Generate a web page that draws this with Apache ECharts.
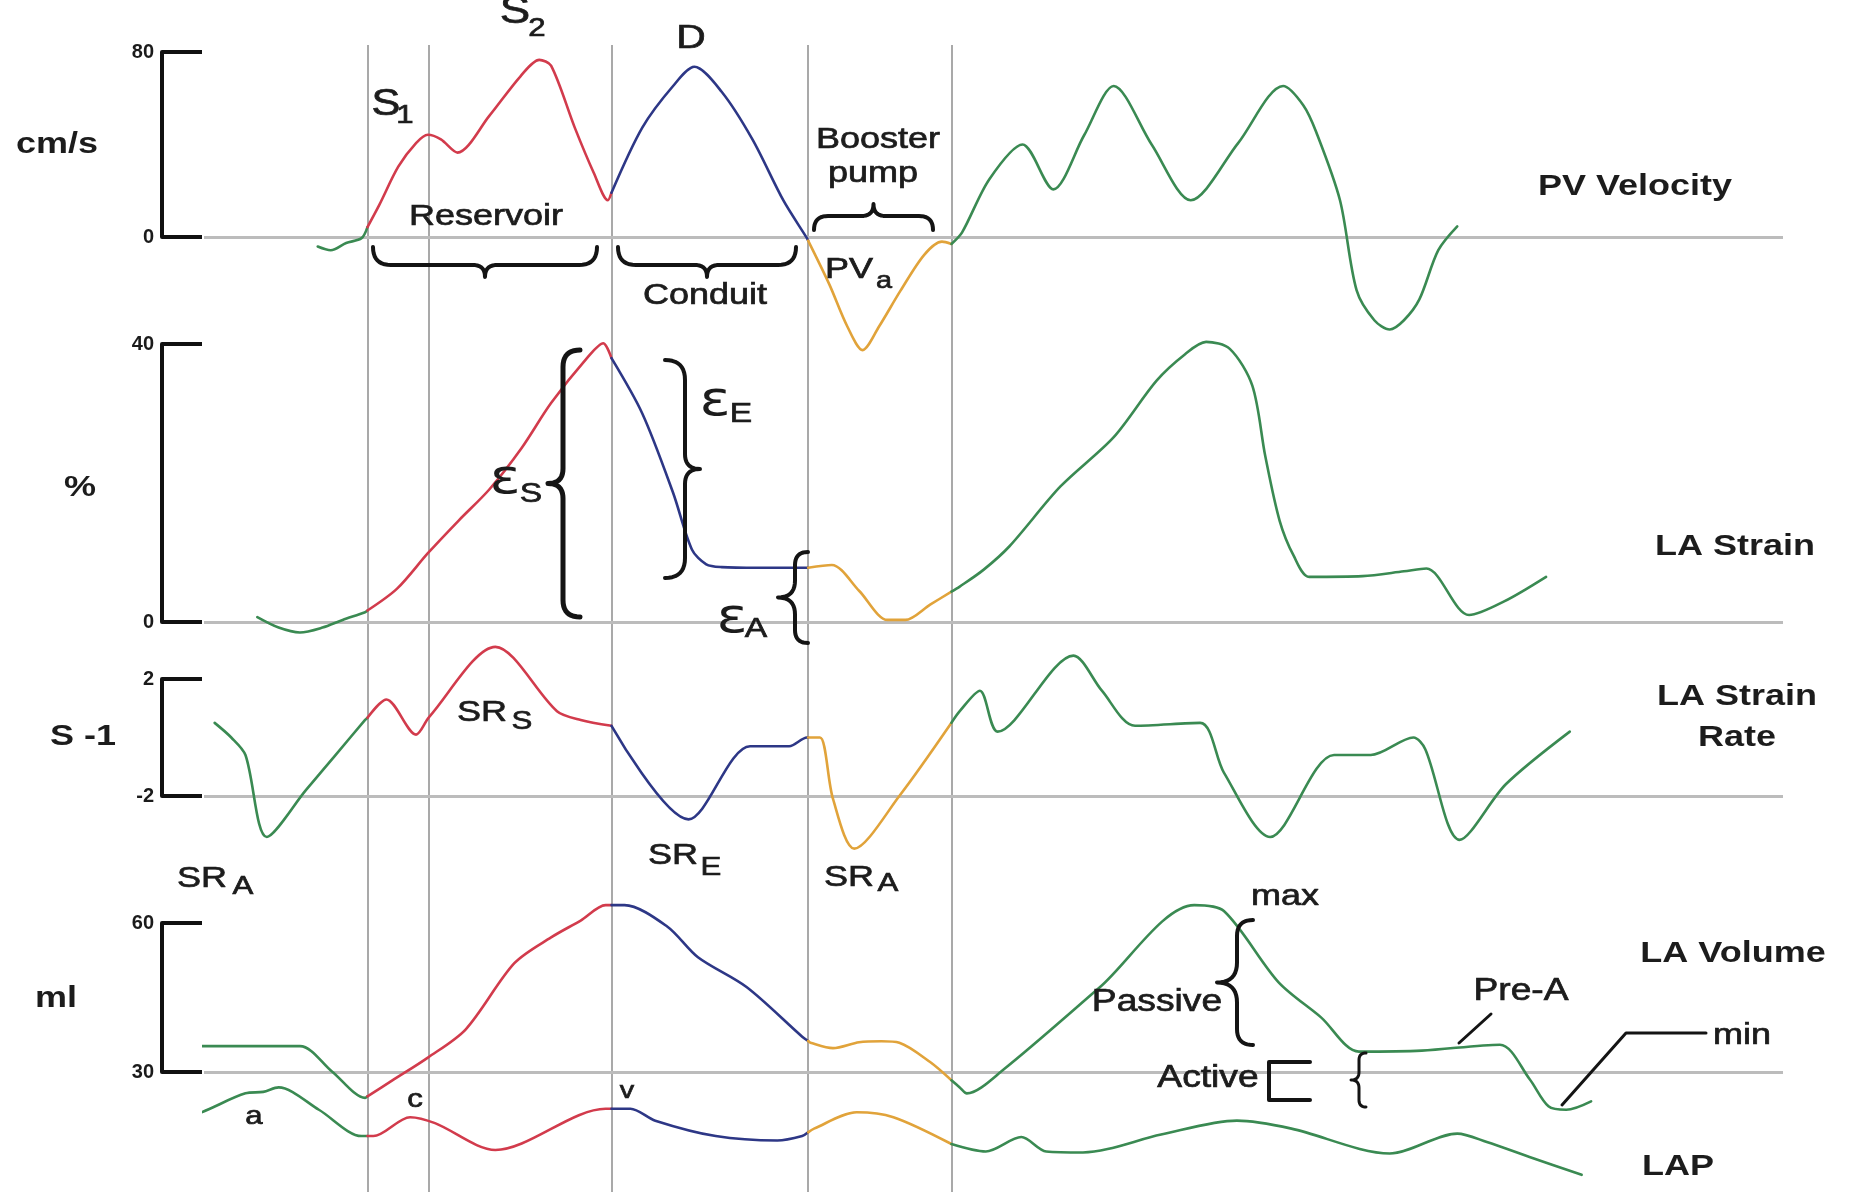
<!DOCTYPE html>
<html><head><meta charset="utf-8">
<script src="https://cdn.jsdelivr.net/npm/echarts@6/dist/echarts.min.js"></script>
<style>html,body{margin:0;padding:0;background:#fff}#c{width:1858px;height:1192px}</style>
</head><body><div id="c"></div>
<script>
// ---- data (time in arbitrary units t) ----
const eventTimes = [310, 362, 516, 682, 803];
const phaseBounds = [310, 516, 682, 803];
const phaseColors = ['#3a8a52', '#d23b4c', '#2d3786', '#e1a33a', '#3a8a52'];

const pvTicks = [0, 80];
const strainTicks = [0, 40];
const srTicks = [-2, 2];
const volTicks = [30, 60];

// PV velocity (cm/s)
const pvVelocity = [[268,-4.1],[279,-5.7],[292,-2.6],[305,-0.5],[320,13.9],[336,30.4],[351,40.6],[361,44.2],[372,42.2],[386,36.5],[413,52.5],[439,69.4],[455,76.6],[465,74.1],[485,47.3],[501,27.8],[513,15.9],[542,47.3],[568,65.3],[586,73.6],[609,62.8],[635,42.2],[661,15.9],[681,-0.5],[700,-20.6],[715,-38.6],[728,-48.9],[742,-38.6],[760,-23.2],[780,-7.7],[795,-2],[803,-3],[812,2],[835,25],[863,40],[889,20.6],[915,44],[940,65.3],[972,40],[1005,15.9],[1045,40.6],[1083,65.3],[1100,57],[1111,45.3],[1131,15.9],[1145,-23],[1160,-36],[1173,-40],[1185,-36],[1198,-27],[1214,-5.7],[1230,4.6]];
// LA strain (%)
const laStrain = [[217,0.7],[235,-0.8],[253,-1.5],[272,-0.8],[289,0.3],[308,1.4],[335,4.8],[361,9.9],[387,14.6],[413,19.1],[440,25],[465,31.5],[496,38.1],[509,40.1],[542,30],[568,18.6],[584,10.4],[596,8.3],[609,7.9],[640,7.8],[682,7.8],[702,8.2],[725,4.5],[749,0.3],[764,0.3],[785,2.5],[810,5.1],[830,7.5],[852,10.9],[895,19.5],[940,26.6],[976,34.7],[1000,38.5],[1018,40.3],[1038,39.3],[1057,34],[1068,23.8],[1080,14.6],[1092,9.5],[1105,6.5],[1150,6.6],[1185,7.3],[1204,7.7],[1240,1],[1270,3],[1305,6.5]];
// LA strain rate (1/s)
const laStrainRate = [[181,0.5],[195,0.0],[207,-0.6],[225,-3.4],[258,-1.8],[283,-0.6],[308,0.6],[326,1.3],[351,0.1],[362,0.7],[418,3.1],[470,0.9],[490,0.6],[516,0.4],[581,-2.8],[633,-0.3],[666,-0.3],[681,0.0],[692,0.0],[703,-2.1],[721,-3.8],[759,-2.0],[810,0.9],[827,1.6],[842,0.2],[906,2.8],[930,1.6],[958,0.4],[1013,0.5],[1033,-1.2],[1072,-3.4],[1126,-0.6],[1157,-0.6],[1193,0.0],[1203,-0.4],[1232,-3.5],[1271,-1.6],[1325,0.2]];
// LA volume (ml)
const laVolume = [[152,35.2],[253,35.2],[280,30.1],[308,24.8],[331,28.3],[361,32.9],[393,38.6],[434,51.9],[465,57.1],[490,60.5],[511,63.6],[527,63.6],[563,59.3],[589,53.1],[630,47.1],[677,37.1],[684,35.9],[703,34.8],[725,36],[744,36.2],[759,35.9],[785,32],[810,26.9],[816,25.7],[847,30.5],[928,47],[1008,63.6],[1033,62.4],[1079,48.1],[1115,41],[1147,34.1],[1200,34.3],[1266,35.5],[1291,28.6],[1307,23.1],[1322,22.4],[1343,24.1]];
// LA pressure (mmHg, unscaled trace)
const lap = [[160,16.4],[170,16.9],[207,20.7],[222,21.0],[235,21.9],[269,17.4],[305,12.1],[315,12.1],[346,15.9],[367,14.7],[418,9.3],[511,17.6],[532,17.6],[553,15.2],[604,12.1],[656,11.2],[677,12.1],[687,13.6],[723,16.9],[754,15.9],[803,10.5],[832,9.0],[862,11.9],[883,9.0],[914,8.8],[980,12.4],[1044,15.2],[1090,13.6],[1173,8.6],[1230,12.6],[1255,10.9],[1291,7.9],[1335,4.3]];

// ---- helpers ----
const FONT = '"Liberation Sans", Arial, Helvetica, sans-serif';
const T_MIN = 172, T_MAX = 1505;

function refine(points, bounds) {
  const out = [points[0]];
  for (let i = 1; i < points.length; i++) {
    const [t0, v0] = points[i-1], [t1, v1] = points[i];
    bounds.forEach(b => { if (t0 < b && t1 > b) out.push([b, v0 + (v1 - v0) * (b - t0) / (t1 - t0)]); });
    out.push(points[i]);
  }
  return out;
}
function segments(points) {
  const pts = refine(points, phaseBounds);
  const edges = [-Infinity, ...phaseBounds, Infinity];
  const segs = [];
  for (let k = 0; k < edges.length - 1; k++) {
    const s = pts.filter(p => p[0] >= edges[k] && p[0] <= edges[k+1]);
    if (s.length > 1) segs.push({k, data: s});
  }
  return segs;
}
function curveSeries(points, xi, yi) {
  return segments(points).map(s => ({
    type: 'line', xAxisIndex: xi, yAxisIndex: yi, data: s.data,
    showSymbol: false, symbol: 'none', smooth: 0.3, clip: false, z: 3, silent: true,
    lineStyle: {color: phaseColors[s.k], width: 2.6, cap: 'round', join: 'round'}
  }));
}
function baseline(xi, yi, value) {
  return {type: 'line', xAxisIndex: xi, yAxisIndex: yi, data: [], silent: true, z: 1,
    markLine: {silent: true, symbol: 'none', z: 1, animation: false, label: {show: false},
      lineStyle: {color: '#bcbcbc', width: 3, type: 'solid'}, emphasis: {disabled: true},
      data: [{yAxis: value}]}};
}
function bracketAxis(gridIndex, ticks) {
  return {type: 'value', gridIndex, min: ticks[0], max: ticks[ticks.length-1], position: 'left', offset: 42,
    axisLine: {show: true, onZero: false, lineStyle: {color: '#111', width: 4}},
    axisTick: {show: true, inside: true, length: 40, customValues: ticks, lineStyle: {color: '#111', width: 4}},
    axisLabel: {show: true, customValues: ticks, color: '#1b1b1b', fontSize: 20, fontWeight: 'bold', fontFamily: FONT, margin: 8},
    splitLine: {show: false}};
}
function txt(text, x, y, size, o) {
  o = o || {};
  const fam = o.eps ? '"DejaVu Sans", sans-serif' : FONT;
  const font = (o.bold ? 'bold ' : '') + size + 'px ' + fam;
  const style = {text, font, fill: '#1c1c1c', textAlign: 'center', textVerticalAlign: 'middle'};
  if (!o.bold && !o.eps) { style.stroke = '#1c1c1c'; style.lineWidth = 0.7; }
  return {type: 'text', x, y, scaleX: o.sx || 1.2, z: 20, silent: true, style};
}
// brace outline as sampled points (decorative annotation shape)
function bracePts(ax, ay, bx, by, hook, tip) {
  const Ln = Math.hypot(bx - ax, by - ay), ux = (bx - ax) / Ln, uy = (by - ay) / Ln, nx = -uy, ny = ux;
  const P = (u, n) => [ax + u*ux + n*nx, ay + u*uy + n*ny];
  const h = hook, m = Ln / 2;
  const pts = [];
  function quad(a, c, b) {
    for (let i = 0; i <= 10; i++) {
      const s = i / 10, q = 1 - s;
      pts.push([q*q*a[0] + 2*q*s*c[0] + s*s*b[0], q*q*a[1] + 2*q*s*c[1] + s*s*b[1]]);
    }
  }
  quad(P(0,0), P(0,h), P(h,h));
  quad(P(m - tip, h), P(m, h), P(m, h + tip));
  quad(P(m, h + tip), P(m, h), P(m + tip, h));
  quad(P(Ln - h, h), P(Ln, h), P(Ln, 0));
  return pts;
}
function poly(points, w) {
  return {type: 'polyline', z: 20, silent: true, shape: {points},
    style: {stroke: '#141414', lineWidth: w || 4, fill: null, lineCap: 'round', lineJoin: 'round'}};
}

// ---- layout ----
const L = 204, R = 75;
const grids = [
  {left: L, right: R, top: 52, height: 185},
  {left: L, right: R, top: 344, height: 278},
  {left: L, right: R, top: 679, height: 117},
  {left: L, right: R, top: 923, height: 149},
  {left: L, right: R, top: 45, bottom: 0}
];
const xAxes = grids.map((g, i) => ({type: 'value', gridIndex: i, min: T_MIN, max: T_MAX, show: false}));
const yAxes = [
  bracketAxis(0, pvTicks), bracketAxis(1, strainTicks), bracketAxis(2, srTicks), bracketAxis(3, volTicks),
  {type: 'value', gridIndex: 3, min: volTicks[0] - 5, max: volTicks[1] - 5, show: false},
  {type: 'value', gridIndex: 4, min: 0, max: 1, show: false}
];

const series = [
  {type: 'line', xAxisIndex: 4, yAxisIndex: 5, data: [], silent: true, z: 1,
    markLine: {silent: true, symbol: 'none', z: 1, animation: false, label: {show: false},
      lineStyle: {color: '#a9a9a9', width: 2, type: 'solid'}, emphasis: {disabled: true},
      data: eventTimes.map(t => ({xAxis: t}))}},
  baseline(0, 0, 0), baseline(1, 1, 0), baseline(2, 2, srTicks[0]), baseline(3, 3, volTicks[0]),
  ...curveSeries(pvVelocity, 0, 0),
  ...curveSeries(laStrain, 1, 1),
  ...curveSeries(laStrainRate, 2, 2),
  ...curveSeries(laVolume, 3, 3),
  ...curveSeries(lap, 3, 4)
];

const graphics = [
  // unit labels
  txt('cm/s', 57, 145, 30, {bold: true}), txt('%', 80, 488, 30, {bold: true}),
  txt('S -1', 83, 737, 30, {bold: true}), txt('ml', 56, 999, 30, {bold: true}),
  // trace names
  txt('PV Velocity', 1635, 187, 30, {bold: true}), txt('LA Strain', 1735, 547, 30, {bold: true}),
  txt('LA Strain', 1737, 697, 30, {bold: true}), txt('Rate', 1737, 738, 30, {bold: true}),
  txt('LA Volume', 1733, 954, 30, {bold: true}), txt('LAP', 1678, 1167, 30, {bold: true}),
  // PV annotations
  txt('S', 386, 105, 36), txt('1', 405, 116, 26),
  txt('S', 515, 13, 38), txt('2', 537, 29, 26),
  txt('D', 691, 39, 34),
  txt('Booster', 878, 140, 30), txt('pump', 873, 174, 30),
  txt('Reservoir', 486, 217, 30), txt('Conduit', 705, 296, 30),
  txt('PV', 849, 270, 30), txt('a', 884, 281, 24),
  poly(bracePts(373, 247, 597, 247, 18, 12)),
  poly(bracePts(618, 247, 796, 247, 18, 12)),
  poly(bracePts(933, 230, 814, 230, 14, 12)),
  // strain annotations
  txt('ε', 505, 481, 48, {eps: true}), txt('S', 531, 494, 28),
  txt('ε', 715, 403, 48, {eps: true}), txt('E', 741, 414, 28),
  txt('ε', 732, 620, 48, {eps: true}), txt('A', 756, 629, 28),
  poly(bracePts(580, 350, 580, 617, 17, 15), 5),
  poly(bracePts(665, 578, 665, 360, 20, 15), 4),
  poly(bracePts(808, 552, 808, 643, 13, 17), 4),
  // strain rate annotations
  txt('SR', 482, 713, 30), txt('S', 522, 722, 26),
  txt('SR', 673, 856, 30), txt('E', 711, 868, 26),
  txt('SR', 849, 878, 30), txt('A', 888, 884, 26),
  txt('SR', 202, 879, 30), txt('A', 243, 887, 26),
  // volume / LAP annotations
  txt('a', 254, 1117, 26), txt('c', 415, 1100, 26), txt('v', 627, 1091, 24),
  txt('max', 1285, 897, 30), txt('Passive', 1157, 1002, 31), txt('Active', 1208, 1078, 31),
  txt('Pre-A', 1521, 991, 31), txt('min', 1742, 1036, 30),
  poly(bracePts(1253, 920, 1253, 1045, 16, 20), 4),
  poly(bracePts(1366, 1053, 1366, 1107, 7, 8), 3),
  poly([[1310,1062],[1269,1062],[1269,1100],[1310,1100]], 4),
  poly([[1491,1014],[1459,1043]], 3),
  poly([[1706,1033],[1626,1033],[1562,1105]], 3)
];

const chart = echarts.init(document.getElementById('c'), null, {renderer: 'canvas'});
chart.setOption({
  animation: false,
  backgroundColor: '#ffffff',
  grid: grids,
  xAxis: xAxes,
  yAxis: yAxes,
  series,
  graphic: {elements: graphics}
});
</script>
</body></html>
